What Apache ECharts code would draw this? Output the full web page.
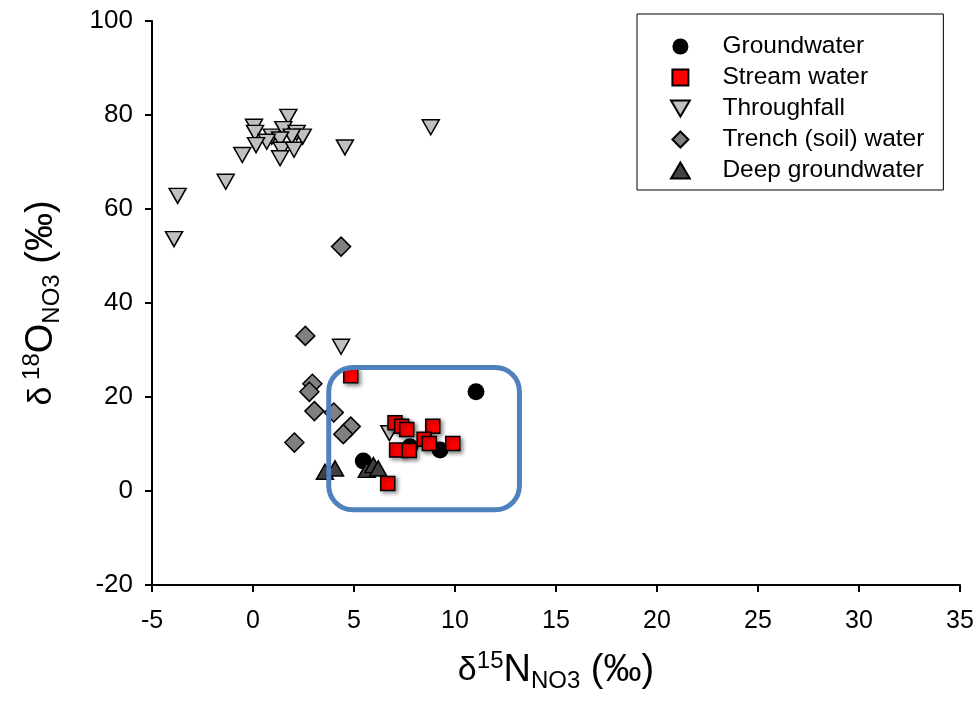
<!DOCTYPE html>
<html>
<head>
<meta charset="utf-8">
<script src="https://cdn.jsdelivr.net/npm/echarts@6/dist/echarts.min.js"></script>
<style>
  html, body { margin: 0; background: #fff; }
  #chart { width: 979px; height: 707px; }
</style>
</head>
<body>
<div id="chart"></div>
<script>
// [d15N, d18O] pairs
const groundwater = [[11.04, 21.1], [5.46, 6.4], [9.26, 8.7], [7.77, 9.4]];
const streamWater = [
  [4.84, 24.5], [7.03, 14.5], [7.36, 13.8], [7.61, 13.1], [8.9, 13.8], [8.47, 11.0],
  [8.73, 10.1], [9.89, 10.1], [7.11, 8.7], [7.74, 8.6], [6.67, 1.6]
];
const throughfall = [
  [1.75, 79.6], [0.05, 77.5], [0.1, 76.2], [8.8, 77.4], [0.93, 75.4], [1.5, 77],
  [2.16, 76.2], [2.46, 75.4], [1.92, 75.4], [1.34, 74.8], [0.68, 74.3], [0.15, 73.6],
  [1.42, 72.6], [2.03, 72.6], [1.34, 70.8], [-0.53, 71.5], [4.55, 73.1], [-1.35, 65.8],
  [-3.73, 62.8], [-3.91, 53.6], [4.36, 30.7], [6.75, 12.3]
];
const trench = [
  [4.36, 52], [2.59, 33.0], [2.94, 22.8], [2.79, 21.1], [3.04, 17.0], [4.0, 16.7],
  [4.84, 13.7], [4.47, 12.1], [2.05, 10.3]
];
const deepGroundwater = [[3.56, 4.1], [4.06, 4.8], [5.63, 4.5], [5.96, 5.5], [6.2, 4.8]];

const legendNames = ["Groundwater", "Stream water", "Throughfall", "Trench (soil) water", "Deep groundwater"];
// highlighted region, data coords: [xmin, ymax], [xmax, ymin]
const boxCorners = [[3.75, 26.3], [13.19, -4.0]];

const triDown = "path://M0,0L20,0L10,17Z";
const triUp = "path://M10,0L20,17L0,17Z";
const diamond = "path://M10,0L20,10L10,20L0,10Z";
const square = "path://M0,0L10,0L10,10L0,10Z";

const sans = "Liberation Sans, Arial, sans-serif";
const narrow = "Liberation Sans Narrow, Arial Narrow, Liberation Sans, sans-serif";

function titleRich() {
  return {
    d: { fontSize: 34, fontFamily: narrow, color: "#000", lineHeight: 44 },
    n: { fontSize: 38, fontFamily: narrow, color: "#000", lineHeight: 44 },
    sup: { fontSize: 24, fontFamily: narrow, color: "#000", lineHeight: 22, verticalAlign: "top" },
    sub: { fontSize: 24, fontFamily: narrow, color: "#000", lineHeight: 22, verticalAlign: "bottom" }
  };
}

const chart = echarts.init(document.getElementById("chart"));

chart.setOption({
  animation: false,
  backgroundColor: "#fff",
  grid: { left: 152, right: 19, top: 21, bottom: 122 },
  xAxis: {
    type: "value",
    min: -5,
    max: 35,
    interval: 5,
    splitLine: { show: false },
    axisLine: { onZero: false, lineStyle: { color: "#000", width: 2 } },
    axisTick: { length: 7, lineStyle: { color: "#000", width: 2 } },
    axisLabel: { color: "#000", fontSize: 25, fontFamily: narrow, margin: 24 },
    name: "{d|δ}{sup|15}{n|N}{sub|NO3}{n| (‰)}",
    nameLocation: "middle",
    nameGap: 64,
    nameTextStyle: { rich: titleRich() }
  },
  yAxis: {
    type: "value",
    min: -20,
    max: 100,
    interval: 20,
    splitLine: { show: false },
    axisLine: { onZero: false, lineStyle: { color: "#000", width: 2 } },
    axisTick: { length: 7, lineStyle: { color: "#000", width: 2 } },
    axisLabel: { color: "#000", fontSize: 26, fontFamily: sans, margin: 19 },
    name: "{d|δ}  {sup|18}{n|O}{sub|NO3}{n| (‰)}",
    nameLocation: "middle",
    nameRotate: 90,
    nameGap: 88,
    nameTextStyle: { rich: titleRich() }
  },
  legend: {
    orient: "vertical",
    left: 637,
    top: 14,
    padding: [20, 19, 7, 33],
    itemWidth: 74,
    itemHeight: 16,
    itemGap: 6,
    borderColor: "#000",
    borderWidth: 1,
    textStyle: { fontSize: 24.5, lineHeight: 24, color: "#000", fontFamily: sans },
    data: legendNames
  },
  series: [
    {
      name: "Throughfall", type: "scatter", data: throughfall,
      symbol: triDown, symbolSize: [17, 15],
      itemStyle: { color: "#c0c0c0", borderColor: "#000", borderWidth: 1.5, opacity: 1 }
    },
    {
      name: "Trench (soil) water", type: "scatter", data: trench,
      symbol: diamond, symbolSize: 19,
      itemStyle: { color: "#808080", borderColor: "#000", borderWidth: 1.5, opacity: 1 }
    },
    {
      name: "Groundwater", type: "scatter", data: groundwater,
      symbol: "circle", symbolSize: 17,
      itemStyle: { color: "#000", opacity: 1 }
    },
    {
      name: "Deep groundwater", type: "scatter", data: deepGroundwater,
      symbol: triUp, symbolSize: [17, 15],
      itemStyle: { color: "#404040", borderColor: "#000", borderWidth: 1.5, opacity: 1 }
    },
    {
      name: "Stream water", type: "scatter", data: streamWater,
      symbol: square, symbolSize: 14,
      itemStyle: {
        color: "#ff0000", borderColor: "#000", borderWidth: 1.5, opacity: 1,
        shadowBlur: 4, shadowOffsetX: 2, shadowOffsetY: 2, shadowColor: "rgba(0,0,0,0.45)"
      }
    }
  ]
});

// rounded highlight box placed from data coordinates
const p1 = chart.convertToPixel({ gridIndex: 0 }, boxCorners[0]);
const p2 = chart.convertToPixel({ gridIndex: 0 }, boxCorners[1]);
chart.setOption({
  graphic: [{
    type: "rect",
    z: 100,
    shape: { x: p1[0], y: p1[1], width: p2[0] - p1[0], height: p2[1] - p1[1], r: 24 },
    style: { fill: "none", stroke: "#4f81bd", lineWidth: 5 }
  }]
});
</script>
</body>
</html>
